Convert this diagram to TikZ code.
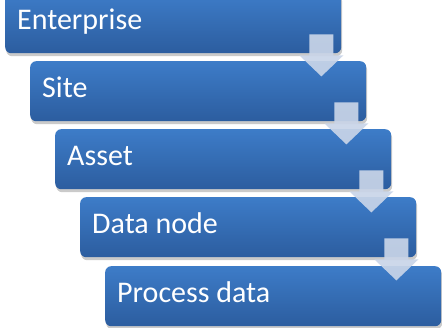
\documentclass[tikz,border=0pt]{standalone}
\usepackage{fontspec}
\setmainfont{Carlito}
\usetikzlibrary{shadows}
\definecolor{boxtop}{HTML}{3D7CC8}
\definecolor{boxbottom}{HTML}{2C5D9F}
\definecolor{arrowtint}{HTML}{C9D5E8}
\tikzset{
  levelbox/.style={rectangle, rounded corners=6pt, minimum width=336pt, minimum height=60pt,
    anchor=north west, inner sep=0pt, top color=boxtop, bottom color=boxbottom,
    drop shadow={shadow xshift=1pt, shadow yshift=-3pt, opacity=0.35, fill=black!60}},
  leveltext/.style={anchor=base west, text=white, font=\fontsize{30}{30}\selectfont, inner sep=0pt},
  arrowfill/.style={fill=arrowtint, fill opacity=0.92}
}
% block arrow hanging from the lower right corner of a box
\newcommand\flowarrow[1]{%
  \fill[arrowfill] ([shift={(-32,-19)}]#1.south east) -- ++(24,0) -- ++(0,21) -- ++(10,0)
    -- ++(-22,21) -- ++(-22,-21) -- ++(10,0) -- cycle;}
\begin{document}
\begin{tikzpicture}[x=1pt,y=-1pt]
  \useasboundingbox (0,0) rectangle (442,328);
  \clip (0,0) rectangle (442,328);
  \node[levelbox] (ent) at (5,-7) {};
  \node[levelbox] (site) at (30,61) {};
  \node[levelbox] (asset) at (55,129) {};
  \node[levelbox] (dnode) at (80,197) {};
  \node[levelbox] (proc) at (105,266) {};
  \node[leveltext] (entT) at ([shift={(12,37)}]ent.north west) {Enterprise};
  \node[leveltext] (siteT) at ([shift={(12,37)}]site.north west) {Site};
  \node[leveltext] (assetT) at ([shift={(12,37)}]asset.north west) {Asset};
  \node[leveltext] (dnodeT) at ([shift={(12,37)}]dnode.north west) {Data node};
  \node[leveltext] (procT) at ([shift={(12,37)}]proc.north west) {Process data};
  \flowarrow{ent}
  \flowarrow{site}
  \flowarrow{asset}
  \flowarrow{dnode}
\end{tikzpicture}
\end{document}
